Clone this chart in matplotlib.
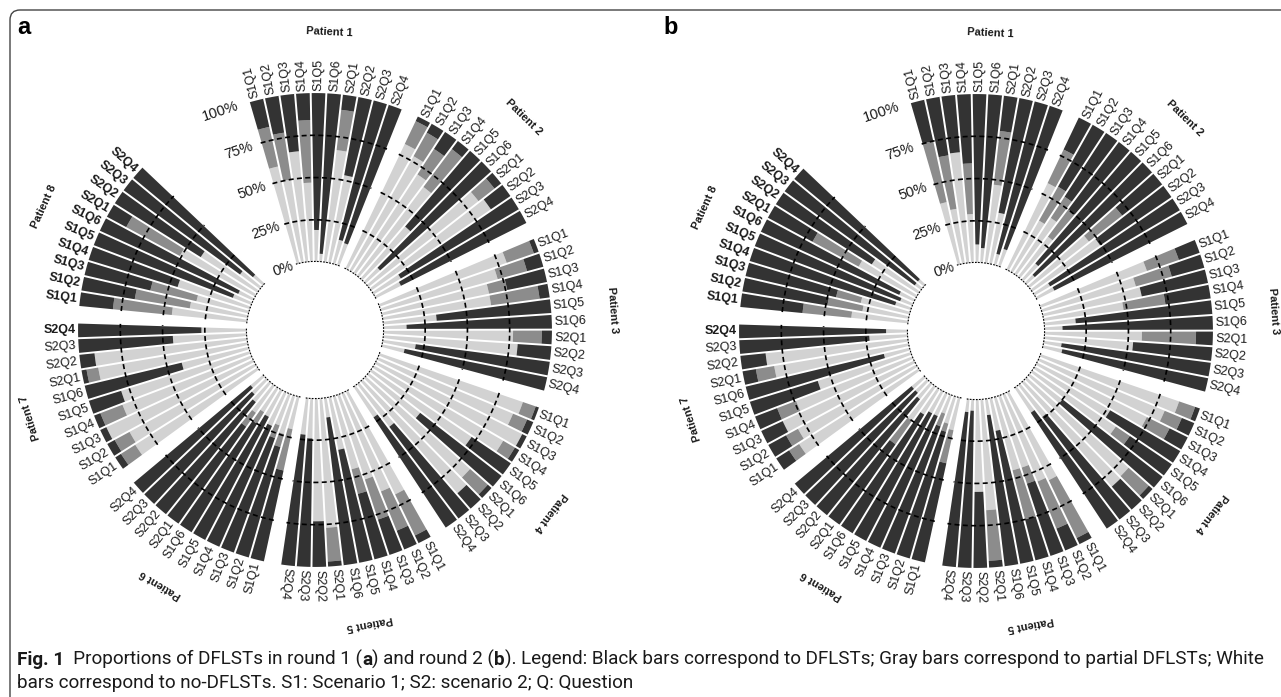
import numpy as np
import matplotlib
matplotlib.use("Agg")
import matplotlib.pyplot as plt
from matplotlib.patches import FancyBboxPatch

plt.rcParams['font.family'] = ['Liberation Sans', 'DejaVu Sans']

W, H = 1281, 697

questions = ['S1Q1', 'S1Q2', 'S1Q3', 'S1Q4', 'S1Q5', 'S1Q6',
             'S2Q1', 'S2Q2', 'S2Q3', 'S2Q4']
patients = ['Patient %d' % i for i in range(1, 9)]
pct_ticks = [0, 25, 50, 75, 100]

# round 1 (panel a): % DFLSTs (black) and % partial DFLSTs (gray), one row per patient
black_r1 = [
    [17, 22, 34, 16, 81, 95, 9, 47, 85, 86],
    [3, 6, 12, 6, 59, 88, 5, 14, 81, 83],
    [3, 10, 24, 6, 68, 86, 6, 20, 80, 86],
    [2, 4, 3, 3, 28, 61, 3, 12, 68, 78],
    [5, 12, 22, 40, 68, 88, 3, 27, 76, 78],
    [55, 68, 72, 78, 82, 75, 70, 85, 88, 90],
    [4, 5, 4, 4, 20, 59, 3, 9, 56, 73],
    [20, 32, 40, 55, 88, 90, 13, 60, 85, 92],
]
gray_r1 = [
    [24, 28, 0, 37, 0, 0, 24, 0, 0, 0],
    [15, 16, 18, 28, 0, 0, 12, 0, 0, 0],
    [17, 18, 11, 29, 0, 0, 17, 0, 0, 0],
    [8, 9, 0, 8, 0, 0, 14, 0, 0, 0],
    [27, 25, 25, 15, 0, 0, 20, 0, 0, 0],
    [25, 8, 8, 0, 0, 8, 10, 0, 0, 0],
    [10, 10, 0, 14, 0, 0, 7, 0, 0, 0],
    [35, 33, 28, 0, 0, 0, 36, 0, 0, 0],
]

# round 2 (panel b)
black_r2 = [
    [25, 35, 34, 41, 89, 91, 21, 69, 93, 89],
    [21, 42, 45, 50, 87, 93, 30, 51, 89, 88],
    [13, 20, 40, 27, 81, 89, 10, 47, 89, 88],
    [3, 8, 12, 48, 30, 75, 3, 18, 76, 82],
    [4, 14, 45, 25, 80, 90, 4, 45, 93, 92],
    [60, 78, 80, 85, 85, 82, 58, 88, 90, 90],
    [9, 12, 14, 14, 42, 84, 8, 15, 77, 87],
    [37, 51, 55, 90, 92, 90, 30, 67, 95, 95],
]
gray_r2 = [
    [37, 32, 0, 30, 0, 0, 32, 0, 0, 0],
    [22, 23, 15, 20, 0, 0, 25, 0, 0, 0],
    [20, 22, 0, 25, 0, 0, 32, 0, 0, 0],
    [10, 11, 15, 0, 10, 0, 16, 0, 0, 0],
    [38, 30, 10, 30, 0, 0, 30, 0, 0, 0],
    [20, 5, 8, 0, 0, 0, 17, 0, 0, 0],
    [7, 8, 0, 12, 0, 0, 11, 0, 0, 0],
    [29, 21, 15, 0, 0, 0, 31, 0, 0, 0],
]

col_black = '#333333'
col_gray = '#8c8c8c'
col_white = '#d2d2d2'

hole = 40.2          # empty centre, in % units
slot = 360 / 95.0    # degrees per bar slot (10 bars + 1 empty per patient, bigger gap for the scale)
start = -16.2        # left edge of the first bar, clockwise from top
px_per_unit = 1.69
rmax = 140

fig = plt.figure(figsize=(W / 100, H / 100), dpi=100)


def panel(cx, cy, black, gray):
    rad = (rmax + hole) * px_per_unit
    ax = fig.add_axes([(cx - rad) / W, (H - cy - rad) / H, 2 * rad / W, 2 * rad / H],
                      projection='polar')
    ax.set_theta_zero_location('N')
    ax.set_theta_direction(-1)
    ax.set_ylim(0, rmax)
    ax.set_rorigin(-hole)
    ax.set_axis_off()
    w = np.deg2rad(slot)
    for k in range(8):
        pos = k * 11 + np.arange(10)
        tdeg = start + (pos + 0.5) * slot
        th = np.deg2rad(tdeg)
        b = np.array(black[k], float)
        g = np.array(gray[k], float)
        lo = 100 - b - g
        m = lo > 0
        ax.bar(th[m], lo[m], width=w, bottom=0, color=col_white, linewidth=0)
        m = g > 0
        ax.bar(th[m], g[m], width=w, bottom=lo[m], color=col_gray, linewidth=0)
        ax.bar(th, b, width=w, bottom=100 - b, color=col_black, linewidth=0)

        edges = np.deg2rad(start + (k * 11 + np.arange(11)) * slot)
        for e in edges:
            ax.plot([e, e], [0, 100.3], color='white', lw=1.4, solid_capstyle='butt', zorder=3)
        arc = np.linspace(edges[0], edges[-1], 120)
        for rr in (25, 50, 75):
            ax.plot(arc, np.full_like(arc, rr), color='black', lw=1.2, dashes=(3, 2), zorder=4)
        ax.plot(arc, np.zeros_like(arc) + 0.3, color='black', lw=1.0, dashes=(1.2, 1.0), zorder=4)

        # question labels at the bar ends
        for i in range(10):
            t = tdeg[i]
            if k < 5:
                rot, ha = 90 - t, 'left'
            else:
                rot, ha = 270 - t, 'right'
            bold = (k == 7) or (k == 6 and i == 9)
            ax.text(np.deg2rad(t), 101.5, questions[i], rotation=rot, rotation_mode='anchor',
                    ha=ha, va='center', fontsize=9, color='#1a1a1a',
                    fontweight='bold' if bold else 'normal')

        # patient title, tangential
        tc = start + (k * 11 + 5) * slot
        rot = (-tc + 180) % 360 - 180
        ax.text(np.deg2rad(tc), 136, patients[k], rotation=rot, rotation_mode='anchor',
                ha='center', va='center', fontsize=8, fontweight='bold', color='#1a1a1a')

    # percentage scale in the big gap
    for p in pct_ticks:
        ax.text(np.deg2rad(-18.8), p, '%d%%' % p, rotation=18.5, rotation_mode='anchor',
                ha='right', va='center', fontsize=10.5, color='#1a1a1a')
    return ax


panel(315, 330, black_r1, gray_r1)
panel(976, 331, black_r2, gray_r2)

fig.text(17 / W, 1 - 27 / H, 'a', fontsize=17, fontweight='bold', ha='left', va='center')
fig.text(663 / W, 1 - 27 / H, 'b', fontsize=17, fontweight='bold', ha='left', va='center')

# frame round the figure (open at right and bottom)
frame = FancyBboxPatch((10, -40), 1400, H - 10 + 40, boxstyle='round,pad=0,rounding_size=10',
                       transform=None, fill=False, edgecolor='#444444', lw=1.0)
fig.patches.append(frame)

# caption with mixed bold parts
line1 = [("Fig. 1", True), ("  Proportions of DFLSTs in round 1 (", False), ("a", True),
         (") and round 2 (", False), ("b", True),
         ("). Legend: Black bars correspond to DFLSTs; Gray bars correspond to partial DFLSTs; White", False)]
line2 = [("bars correspond to no-DFLSTs. S1: Scenario 1; S2: scenario 2; Q: Question", False)]

renderer = fig.canvas.get_renderer()


def draw_line(parts, x_px, y_px, size, keep=True):
    x = x_px
    made = []
    for s, bold in parts:
        t = fig.text(x / W, 1 - y_px / H, s, fontsize=size, family=['Roboto', 'DejaVu Sans'],
                     fontweight='bold' if bold else 'normal', ha='left', va='baseline',
                     color='#1a1a1a')
        x += t.get_window_extent(renderer).width
        made.append(t)
    if not keep:
        for t in made:
            t.remove()
    return x - x_px


wtest = draw_line(line1, 17, 665, 12, keep=False)
size = 12 * 1245 / wtest
draw_line(line1, 17, 665, size)
draw_line(line2, 17, 688, size)

fig.savefig('out.png', dpi=100)
